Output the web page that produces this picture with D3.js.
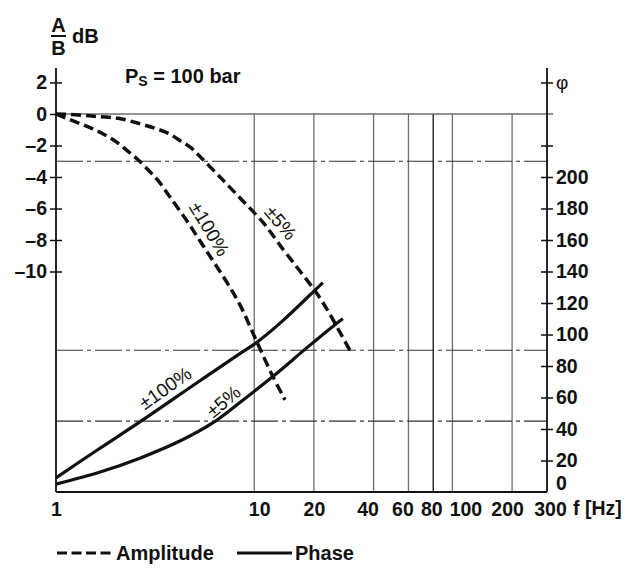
<!DOCTYPE html>
<html>
<head>
<meta charset="utf-8">
<script src="https://cdn.jsdelivr.net/npm/d3@7/dist/d3.min.js"></script>
<style>
  body { margin: 0; background: #fff; }
  text { font-family: "Liberation Sans", Arial, sans-serif; fill: #111; }
  .tk { font-family: "Liberation Sans", Arial, sans-serif; font-weight: bold; font-size: 19.5px; }
</style>
</head>
<body>
<svg id="chart" width="641" height="570"></svg>
<script>
// frequency ticks and grid
var freqTicks = [1, 10, 20, 40, 60, 80, 100, 200, 300];
var gridFreqs = [10, 20, 40, 60, 80, 100, 200];
var dbTicks = [2, 0, -2, -4, -6, -8, -10];
var phiTicks = [260, 220, 200, 180, 160, 140, 120, 100, 80, 60, 40, 20];
var refDb = [-3];
var refPhi = [90, 45];

// amplitude, +-100%
var ampFreq100 = [1, 1.247, 1.514, 1.767, 2.062, 2.317, 2.602, 2.922, 3.27, 3.76, 4.58, 5.33, 6.2, 7.29, 8.5, 10.3, 12.4, 14.3];
var ampDb100 = [0, -0.49, -0.91, -1.33, -1.86, -2.39, -2.92, -3.56, -4.22, -5.27, -6.79, -8.06, -9.33, -10.7, -12.15, -14.45, -16.65, -18.15];
// amplitude, +-5%
var ampFreq5 = [1, 1.296, 1.635, 2.062, 2.602, 3.16, 3.69, 4.31, 4.84, 5.43, 6.72, 8.48, 11.1, 14, 17, 20.3, 23.3, 26.5, 30.4];
var ampDb5 = [0, -0.06, -0.17, -0.27, -0.59, -0.91, -1.23, -1.76, -2.18, -2.81, -4.0, -5.33, -6.9, -8.6, -9.97, -11.24, -12.4, -13.65, -15.0];
// phase, +-100%
var phaseFreq100 = [1, 1.63, 2.65, 5.3, 8.5, 10.3, 14, 20.2, 22.2];
var phase100 = [9, 27, 44.5, 70.5, 88, 95, 109, 128, 133];
// phase, +-5%
var phaseFreq5 = [1, 1.67, 2.65, 4.32, 6.2, 8.5, 12.5, 18.4, 26.1, 28];
var phase5 = [5, 12.7, 21.5, 33, 44, 57, 73.6, 91.5, 107.2, 110];

// horizontal nudges of the frequency labels
var xLabelNudge = { 10: 5, 40: -6, 60: -6, 80: -2, 100: 13, 200: -5, 300: 3 };

var svg = d3.select("#chart");

var x = d3.scaleLog().domain([1, 300]).range([56, 547]);
var yDb = d3.scaleLinear().domain([-24, 0]).range([492, 114]);
var yPhi = d3.scaleLinear().domain([0, 240]).range([492, 114]);

var minus = function(d) { return d < 0 ? "\u2013" + Math.abs(d) : "" + d; };

// vertical grid
svg.append("g").selectAll("line")
  .data(gridFreqs).enter().append("line")
  .attr("x1", function(d) { return x(d); })
  .attr("x2", function(d) { return x(d); })
  .attr("y1", yDb(0))
  .attr("y2", yDb(-24))
  .style("stroke", function(d) { return d == 80 ? "#111" : "#6e6e6e"; })
  .style("stroke-width", 1.3);

// 0 dB line
svg.append("line")
  .attr("x1", x(1)).attr("x2", x(300) + 6)
  .attr("y1", yDb(0)).attr("y2", yDb(0))
  .style("stroke", "#6e6e6e").style("stroke-width", 1.6);

// dash-dot reference lines
svg.append("g").selectAll("line")
  .data(refDb.map(yDb).concat(refPhi.map(yPhi))).enter().append("line")
  .attr("x1", x(1)).attr("x2", x(300))
  .attr("y1", function(d) { return d; })
  .attr("y2", function(d) { return d; })
  .style("stroke", "#333")
  .style("stroke-width", 1.1)
  .style("stroke-dasharray", "27,4,4,4");

// axes
var leftAxis = svg.append("g")
  .attr("transform", "translate(" + x(1) + ",0)")
  .call(d3.axisLeft(yDb).tickValues(dbTicks).tickSize(6).tickFormat(minus));
leftAxis.select(".domain").remove();
leftAxis.selectAll(".tick line").attr("x1", 6).style("stroke", "#111").style("stroke-width", 1.5);
leftAxis.selectAll(".tick text").attr("x", -9).attr("class", "tk");

var rightAxis = svg.append("g")
  .attr("transform", "translate(" + x(300) + ",0)")
  .call(d3.axisRight(yPhi).tickValues(phiTicks).tickSize(6)
    .tickFormat(function(d) { return d > 200 ? "" : d; }));
rightAxis.select(".domain").remove();
rightAxis.selectAll(".tick line").attr("x1", -6).style("stroke", "#111").style("stroke-width", 1.5);
rightAxis.selectAll(".tick text").attr("x", 9).attr("class", "tk");

svg.append("text").attr("class", "tk")
  .attr("x", x(300) + 9).attr("y", yPhi(0) - 9).attr("dy", ".35em")
  .text("0");

svg.append("text")
  .attr("x", x(300) + 9).attr("y", yPhi(260)).attr("dy", ".35em")
  .style("font-size", "19px")
  .text("\u03c6");

var bottomAxis = svg.append("g")
  .attr("transform", "translate(0," + yDb(-24) + ")")
  .call(d3.axisBottom(x).tickValues(freqTicks).tickSize(0).tickFormat(d3.format("d")));
bottomAxis.select(".domain").remove();
bottomAxis.selectAll(".tick text").attr("y", 10).attr("class", "tk")
  .attr("dx", function(d) { return xLabelNudge[d] || 0; });

svg.append("text").attr("class", "tk")
  .attr("x", x(300) + 26).attr("y", 515)
  .text("f [Hz]");

// axis lines
svg.append("line").attr("x1", x(1)).attr("x2", x(1)).attr("y1", 68).attr("y2", yDb(-24))
  .style("stroke", "#111").style("stroke-width", 1.8);
svg.append("line").attr("x1", x(300)).attr("x2", x(300)).attr("y1", 68).attr("y2", yDb(-24))
  .style("stroke", "#111").style("stroke-width", 1.8);
svg.append("line").attr("x1", x(1)).attr("x2", x(300)).attr("y1", yDb(-24)).attr("y2", yDb(-24))
  .style("stroke", "#111").style("stroke-width", 1.8);

// curves
function pts(fs, vs) { return fs.map(function(f, i) { return { f: f, v: vs[i] }; }); }

var ampLine = d3.line().curve(d3.curveCatmullRom.alpha(0.5))
  .x(function(d) { return x(d.f); }).y(function(d) { return yDb(d.v); });
var phaseLine = d3.line().curve(d3.curveCatmullRom.alpha(0.5))
  .x(function(d) { return x(d.f); }).y(function(d) { return yPhi(d.v); });

[pts(ampFreq100, ampDb100), pts(ampFreq5, ampDb5)].forEach(function(p) {
  svg.append("path").attr("d", ampLine(p))
    .style("fill", "none").style("stroke", "#111")
    .style("stroke-width", 3.5).style("stroke-dasharray", "10,5");
});

[pts(phaseFreq100, phase100), pts(phaseFreq5, phase5)].forEach(function(p) {
  svg.append("path").attr("d", phaseLine(p))
    .style("fill", "none").style("stroke", "#111")
    .style("stroke-width", 3.2);
});

// curve labels
function curveLabel(px, py, angle, txt) {
  svg.append("text")
    .attr("transform", "translate(" + px + "," + py + ") rotate(" + angle + ")")
    .attr("text-anchor", "middle").attr("dy", ".35em")
    .style("font-size", "19px")
    .text(txt);
}
curveLabel(x(5.95), yDb(-7.3), 59, "\u00b1100%");
curveLabel(x(13.6), yDb(-6.9), 50, "\u00b15%");
curveLabel(x(3.55), yPhi(66), -35, "\u00b1100%");
curveLabel(x(7.0), yPhi(57.5), -40, "\u00b15%");

// title A/B dB
svg.append("text").attr("x", 58.5).attr("y", 32).attr("text-anchor", "middle")
  .style("font-size", "20px").style("font-weight", "bold").text("A");
svg.append("line").attr("x1", 51).attr("x2", 66).attr("y1", 36).attr("y2", 36)
  .style("stroke", "#111").style("stroke-width", 2);
svg.append("text").attr("x", 58.5).attr("y", 55).attr("text-anchor", "middle")
  .style("font-size", "20px").style("font-weight", "bold").text("B");
svg.append("text").attr("x", 72).attr("y", 43)
  .style("font-size", "20px").style("font-weight", "bold").text("dB");

var ps = svg.append("text").attr("x", 125).attr("y", 83)
  .style("font-size", "20px").style("font-weight", "bold");
ps.append("tspan").text("P");
ps.append("tspan").attr("dy", 3).style("font-size", "14px").text("S");
ps.append("tspan").attr("dy", -3).text(" = 100 bar");

// legend
svg.append("line").attr("x1", 57).attr("x2", 112).attr("y1", 553).attr("y2", 553)
  .style("stroke", "#111").style("stroke-width", 3).style("stroke-dasharray", "10,4.5");
svg.append("text").attr("x", 116).attr("y", 560)
  .style("font-size", "20px").style("font-weight", "bold").text("Amplitude");
svg.append("line").attr("x1", 237).attr("x2", 292).attr("y1", 553).attr("y2", 553)
  .style("stroke", "#111").style("stroke-width", 3);
svg.append("text").attr("x", 295).attr("y", 560)
  .style("font-size", "20px").style("font-weight", "bold").text("Phase");
</script>
</body>
</html>
